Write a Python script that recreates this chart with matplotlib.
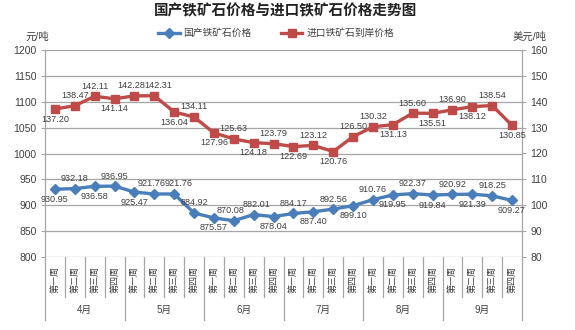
import matplotlib

matplotlib.use("Agg")
import matplotlib.pyplot as plt
import matplotlib.transforms as mtransforms

plt.rcParams["font.family"] = ["Liberation Sans", "Noto Sans CJK SC", "DejaVu Sans"]

months = ["4月", "5月", "6月", "7月", "8月", "9月"]
weeks = ["第一周", "第二周", "第三周", "第四周"]

domestic = [930.95, 932.18, 936.58, 936.95, 925.47, 921.76, 921.76, 884.92,
            875.57, 870.08, 882.01, 878.04, 884.17, 887.40, 892.56, 899.10,
            910.76, 919.95, 922.37, 919.84, 920.92, 921.39, 918.25, 909.27]
imported = [137.20, 138.47, 142.11, 141.14, 142.28, 142.31, 136.04, 134.11,
            127.96, 125.63, 124.18, 123.79, 122.69, 123.12, 120.76, 126.50,
            130.32, 131.13, 135.60, 135.51, 136.90, 138.12, 138.54, 130.85]

# label side for each point: 1 above, -1 below
dom_side = [-1, 1, -1, 1, -1, 1, 1, 1, -1, 1, 1, -1,
            1, -1, 1, -1, 1, -1, 1, -1, 1, -1, 1, -1]
imp_side = [-1, 1, 1, -1, 1, 1, -1, 1, -1, 1, -1, 1,
            -1, 1, -1, 1, 1, -1, 1, -1, 1, -1, 1, -1]
# small sideways nudges where neighbouring labels touch
dom_dx = {5: -2, 6: 3, 9: -2, 10: 2}
imp_dx = {4: -2, 5: 3}

BLUE = "#4A7EBB"
RED = "#BE4B48"
GRID = "#A6A6A6"
TXT = "#404040"

fig = plt.figure(figsize=(5.75, 3.3), dpi=100)
ax = fig.add_axes([45 / 575, 1 - 257 / 330, 477 / 575, 207 / 330])
ax2 = ax.twinx()

n = len(domestic)
xs = list(range(n))

ax.plot(xs, domestic, color=BLUE, lw=2.4, marker="D", ms=5,
        label="国产铁矿石价格", zorder=3)
ax2.plot(xs, imported, color=RED, lw=2.4, marker="s", ms=6,
         label="进口铁矿石到岸价格", zorder=3)

for x, v, s in zip(xs, domestic, dom_side):
    ax.annotate(f"{v:.2f}", (x, v), xytext=(dom_dx.get(x, 0), 4 * s),
                textcoords="offset points", ha="center",
                va="bottom" if s > 0 else "top", fontsize=6.6, color=TXT)
for x, v, s in zip(xs, imported, imp_side):
    ax2.annotate(f"{v:.2f}", (x, v), xytext=(imp_dx.get(x, 0), 4 * s),
                 textcoords="offset points", ha="center",
                 va="bottom" if s > 0 else "top", fontsize=6.6, color=TXT)

ax.set_xlim(-0.5, n - 0.5)
ax.set_ylim(800, 1200)
ax.set_yticks(range(800, 1201, 50))
ax2.set_ylim(80, 160)
ax2.set_yticks(range(80, 161, 10))
ax.yaxis.grid(True, color=GRID, lw=0.9)
ax.set_axisbelow(True)
ax.set_xticks([])

for a in (ax, ax2):
    for sp in a.spines.values():
        sp.set_visible(False)
    a.tick_params(axis="y", length=3, color=GRID, labelsize=7.5, labelcolor=TXT, pad=3)

# category axis drawn by hand: week labels and separators
trans = mtransforms.blended_transform_factory(ax.transData, ax.transAxes)
for i in range(n):
    ax.text(i, -0.11, weeks[i % 4], rotation=90, ha="center", va="center",
            fontsize=6.5, color=TXT, transform=trans, clip_on=False)
for i in range(n + 1):
    bottom = -0.305 if i % 4 == 0 else -0.195
    top = 1.0 if i in (0, n) else 0.0
    ax.plot([i - 0.5, i - 0.5], [bottom, top], color=GRID, lw=0.9,
            transform=trans, clip_on=False)
for m, name in enumerate(months):
    ax.text(m * 4 + 1.5, -0.255, name, ha="center", va="center",
            fontsize=7, color=TXT, transform=trans, clip_on=False)

fig.text(0.497, 0.965, "国产铁矿石价格与进口铁矿石价格走势图", ha="center", va="center",
         fontsize=10.5, fontweight="bold", color="#222222")
fig.text(0.045, 0.89, "元/吨", ha="left", va="center", fontsize=7.5, color=TXT)
fig.text(0.95, 0.89, "美元/吨", ha="right", va="center", fontsize=7.5, color=TXT)

h1, l1 = ax.get_legend_handles_labels()
h2, l2 = ax2.get_legend_handles_labels()
fig.legend(h1 + h2, l1 + l2, loc="center", bbox_to_anchor=(0.48, 0.9), ncol=2,
           frameon=False, fontsize=7, handlelength=2.2, columnspacing=3,
           handletextpad=0.4, labelcolor=TXT)

fig.savefig("out.png", dpi=100)
